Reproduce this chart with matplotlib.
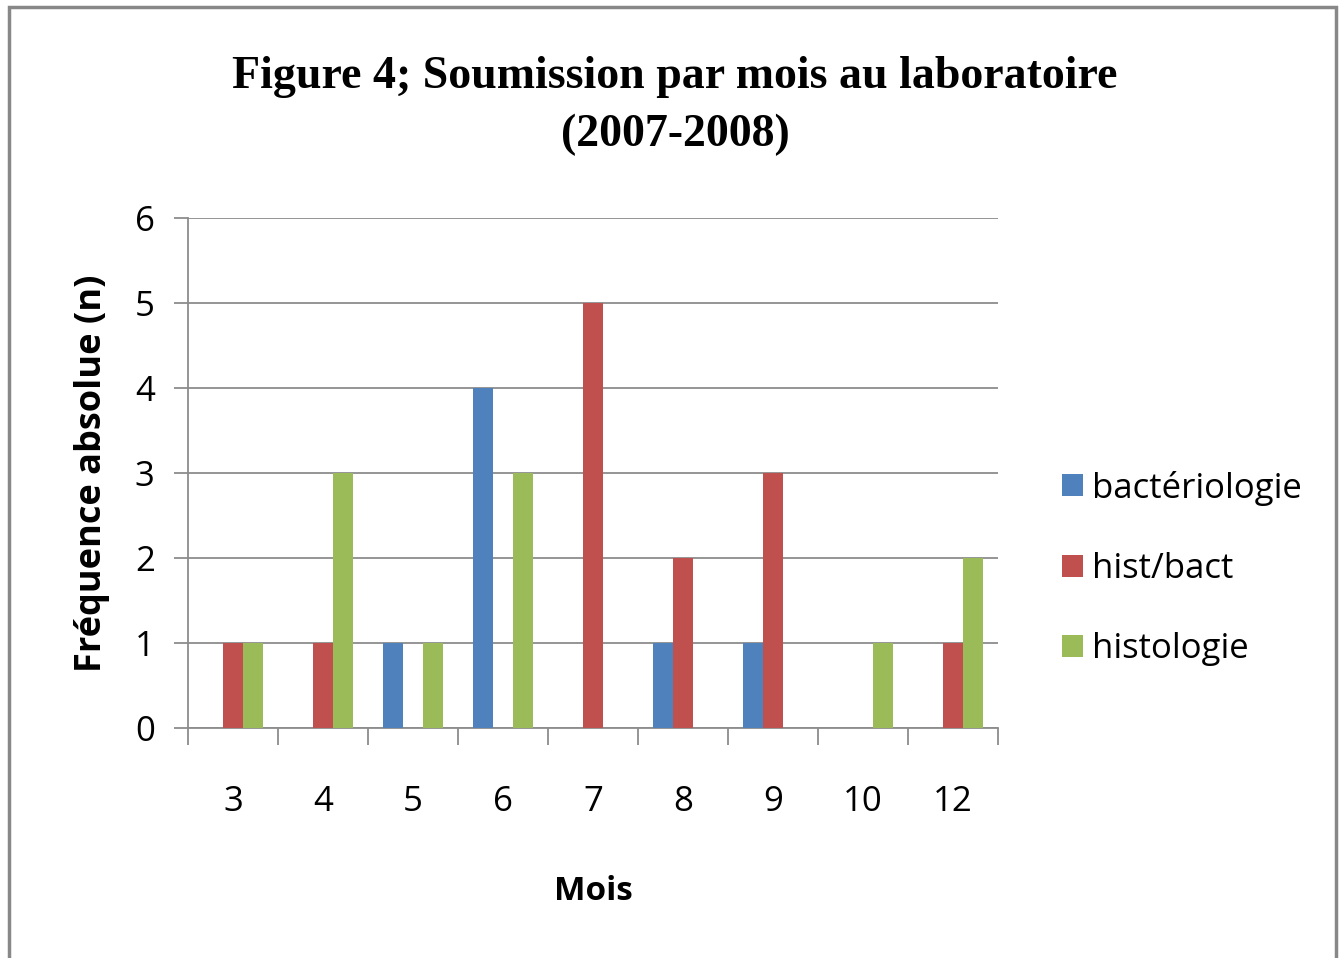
import numpy as np
import matplotlib
matplotlib.use("Agg")
import matplotlib.pyplot as plt
import matplotlib.patches as patches

# Data
mois = ["3", "4", "5", "6", "7", "8", "9", "10", "12"]
bacteriologie = [0, 0, 1, 4, 0, 1, 1, 0, 0]
hist_bact = [1, 1, 0, 0, 5, 2, 3, 0, 1]
histologie = [1, 3, 1, 3, 0, 0, 0, 1, 2]
series_names = ["bactériologie", "hist/bact", "histologie"]
colors = ["#4F81BD", "#C0504D", "#9BBB59"]

sans = ["Open Sans", "DejaVu Sans"]

fig = plt.figure(figsize=(13.44, 9.58), dpi=100, facecolor="white")
ax = fig.add_axes([188 / 1344, 1 - 728 / 958, 810 / 1344, 510 / 958])

x = np.arange(len(mois))
w = 1 / 4.5
for i, (vals, name, c) in enumerate(zip([bacteriologie, hist_bact, histologie], series_names, colors)):
    ax.bar(x + (i - 1) * w, vals, width=w, color=c, label=name, zorder=3)

ax.set_xlim(-0.5, len(mois) - 0.5)
ax.set_ylim(0, 6)
ax.set_yticks(range(7))
ax.yaxis.grid(True, color="#8c8c8c", linewidth=1.3, zorder=0)
ax.set_axisbelow(True)

# category ticks at boundaries, labels at centers
ax.set_xticks(np.arange(-0.5, len(mois)), minor=False)
ax.set_xticklabels([])
ax.set_xticks(x, minor=True)
ax.set_xticklabels(mois, minor=True, fontsize=25, family=sans)
ax.tick_params(axis="x", which="major", direction="out", length=12, width=1.3, color="#8c8c8c")
ax.tick_params(axis="x", which="minor", length=0, pad=41)
ax.tick_params(axis="y", direction="out", length=10, width=1.3, color="#8c8c8c", pad=14)
for lab in ax.get_yticklabels():
    lab.set_fontsize(25)
    lab.set_family(sans)

for s in ["top", "right"]:
    ax.spines[s].set_visible(False)
for s in ["left", "bottom"]:
    ax.spines[s].set_color("#8c8c8c")
    ax.spines[s].set_linewidth(1.3)

ax.set_xlabel("Mois", fontsize=24, fontweight="bold", family=sans, labelpad=40)
ax.set_ylabel("Fréquence absolue (n)", fontsize=26, fontweight="bold", family=sans, labelpad=18)

fig.text(675 / 1344, 1 - 106 / 958, "Figure 4; Soumission par mois au laboratoire\n(2007-2008)",
         ha="center", va="center", fontsize=33, fontweight="bold", family="Liberation Serif",
         linespacing=1.5)

leg = ax.legend(loc="center left", bbox_to_anchor=(1.062, 0.313), frameon=False,
                prop={"family": sans, "size": 25}, handlelength=0.6, handleheight=0.6,
                handletextpad=0.25, labelspacing=1.33, borderaxespad=0)

rect = patches.Rectangle((9 / 1344, -0.02), 1327 / 1344, 1 - 7 / 958 + 0.02, linewidth=2.5,
                         edgecolor="#888888", facecolor="none", transform=fig.transFigure)
fig.patches.append(rect)

fig.savefig("out.png", dpi=100)
